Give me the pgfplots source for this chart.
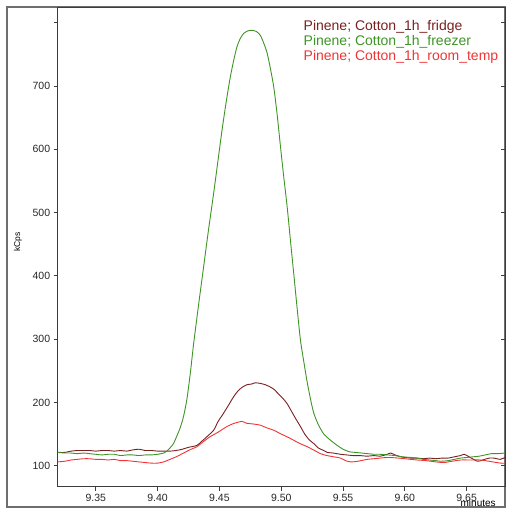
\documentclass[border=0pt]{standalone}
\usepackage{pgfplots}
\pgfplotsset{compat=1.18}
\usepackage{fontspec}
\setmainfont{Liberation Sans}
\definecolor{cfridge}{RGB}{122,32,32}
\definecolor{cfreezer}{RGB}{62,148,36}
\definecolor{croom}{RGB}{240,52,52}
\definecolor{axgray}{RGB}{60,60,60}
\definecolor{frgray}{RGB}{110,110,110}
\pgfplotstableread{
x y
9.319 121
9.325 120
9.330 120
9.335 119
9.340 120
9.345 119
9.350 118
9.355 117
9.360 118
9.365 118
9.370 116
9.375 117
9.380 117
9.385 116
9.390 117
9.395 117
9.400 118
9.405 120
9.4075 123
9.410 128
9.4129 135
9.4156 147
9.4183 160
9.4210 178
9.4237 205
9.4264 245
9.4291 292
9.433 352
9.4372 414
9.441 470
9.4453 530
9.4487 580
9.4521 630
9.4555 675
9.4588 714
9.4615 740
9.4642 762
9.4669 775
9.4696 783
9.473 787
9.4764 788
9.480 786
9.4831 780
9.4858 768
9.4886 752
9.4912 728
9.4939 699
9.4967 655
9.4994 604
9.502 557
9.5048 509
9.5075 455
9.5101 404
9.5128 350
9.5155 299
9.5182 265
9.521 232
9.5237 205
9.5263 183
9.530 165
9.5344 150
9.540 140
9.5453 132
9.550 126
9.555 122
9.560 121
9.565 120
9.570 119
9.575 118
9.580 118
9.586 117
9.592 116
9.598 114
9.605 113
9.610 112
9.615 110
9.620 109
9.625 108
9.629 107
9.635 108
9.640 110
9.645 112
9.650 113
9.655 114
9.660 115
9.665 117
9.670 119
9.675 119
9.681 120
}\freezer
\pgfplotstableread{
x y
9.319 121
9.325 121
9.330 123
9.335 124
9.340 124
9.345 124
9.350 123
9.355 124
9.360 124
9.365 123
9.370 124
9.375 123
9.380 125
9.385 126
9.390 124
9.395 124
9.400 123
9.405 123
9.410 123
9.415 124
9.420 126
9.425 129
9.4318 132
9.436 139
9.440 146
9.4453 156
9.449 170
9.4534 183
9.4575 196
9.4615 209
9.465 218
9.4685 224
9.4724 228
9.476 229
9.479 231
9.4831 230
9.487 228
9.4905 225
9.4939 221
9.498 213
9.5015 206
9.5048 198
9.508 187
9.5115 175
9.5155 162
9.519 150
9.5226 141
9.5263 135
9.530 128
9.5344 124
9.5372 121
9.542 120
9.548 118
9.553 117
9.558 116
9.5635 116
9.5696 115
9.575 116
9.580 115
9.5858 118
9.5885 120
9.592 117
9.597 114
9.6047 112
9.610 112
9.615 111
9.620 112
9.625 111
9.630 112
9.635 112
9.640 114
9.645 116
9.648 118
9.652 114
9.6587 107
9.663 109
9.668 112
9.6722 112
9.677 110
9.681 113
}\fridge
\pgfplotstableread{
x y
9.319 106
9.325 107
9.330 109
9.335 110
9.340 111
9.345 111
9.350 110
9.355 110
9.360 109
9.365 110
9.370 108
9.375 108
9.380 107
9.385 106
9.390 105
9.395 104
9.400 104
9.405 106
9.410 110
9.415 114
9.421 120
9.426 125
9.4318 130
9.437 138
9.4426 146
9.449 153
9.4562 162
9.462 167
9.4683 170
9.472 167
9.477 166
9.4831 164
9.488 160
9.4939 156
9.500 150
9.5075 143
9.514 136
9.521 130
9.526 125
9.5318 119
9.537 116
9.5426 114
9.548 112
9.552 108
9.556 106
9.562 107
9.5696 110
9.575 111
9.5858 113
9.595 112
9.6047 110
9.610 109
9.617 108
9.625 106
9.6317 105
9.638 107
9.6452 109
9.653 109
9.6614 109
9.668 107
9.6776 104
9.681 104
}\room
\begin{document}
\begin{tikzpicture}[x=1pt,y=1pt]
\path[use as bounding box] (0,0) rectangle (507,509);
\draw[frgray, line width=1.2pt] (7,2) rectangle (505,502);
\begin{axis}[
  at={(57.7pt,22.3pt)}, anchor=south west,
  scale only axis, width=447.3pt, height=479.2pt,
  xmin=9.3192, xmax=9.681, ymin=66.8, ymax=824,
  axis line style={axgray, line width=0.8pt},
  tick style={axgray, line width=0.8pt},
  major tick length=4pt,
  tick align=outside,
  xtick pos=bottom, ytick pos=left,
  xtick={9.35,9.40,9.45,9.50,9.55,9.60,9.65},
  xticklabels={9.35,9.40,9.45,9.50,9.55,9.60,9.65},
  ytick={100,200,300,400,500,600,700,800},
  yticklabels={100,200,300,400,500,600,700,},
  /pgf/number format/assume math mode=true,
  ticklabel style={font=\fontsize{10.5}{12}\selectfont, text=black!85},
  ylabel={kCps},
  ylabel style={font=\fontsize{8.5}{10}\selectfont, at={(axis description cs:-0.0888,0.511)}, anchor=center},
  xlabel={minutes},
  xlabel style={font=\fontsize{10}{11}\selectfont, at={(axis description cs:0.94,-0.034)}, anchor=center},
  legend image code/.code={},
  legend cell align=left,
  legend style={at={(0.545,0.978)}, anchor=north west, draw=none, fill=none,
    font=\fontsize{14}{15}\selectfont, inner sep=0pt, row sep=-0.5pt},
]
\addplot[cfridge, line width=0.9pt, smooth, tension=0.4] table[x=x,y=y] {\fridge};
\addlegendentry{\textcolor{cfridge}{Pinene; Cotton\_1h\_fridge}}
\addplot[cfreezer, line width=0.9pt, smooth, tension=0.4] table[x=x,y=y] {\freezer};
\addlegendentry{\textcolor{cfreezer}{Pinene; Cotton\_1h\_freezer}}
\addplot[croom, line width=0.9pt, smooth, tension=0.4] table[x=x,y=y] {\room};
\addlegendentry{\textcolor{croom}{Pinene; Cotton\_1h\_room\_temp}}
\end{axis}
\begin{axis}[
  at={(57.7pt,22.3pt)}, anchor=south west,
  scale only axis, width=447.3pt, height=479.2pt,
  xmin=9.3192, xmax=9.681, ymin=66.8, ymax=824,
  hide x axis, axis y line*=right,
  axis line style={axgray, line width=0.8pt},
  tick style={axgray, line width=0.8pt},
  major tick length=4pt, tick align=inside,
  ytick={100,200,300,400,500,600,700,800},
  yticklabels={},
]
\end{axis}
\end{tikzpicture}
\end{document}
